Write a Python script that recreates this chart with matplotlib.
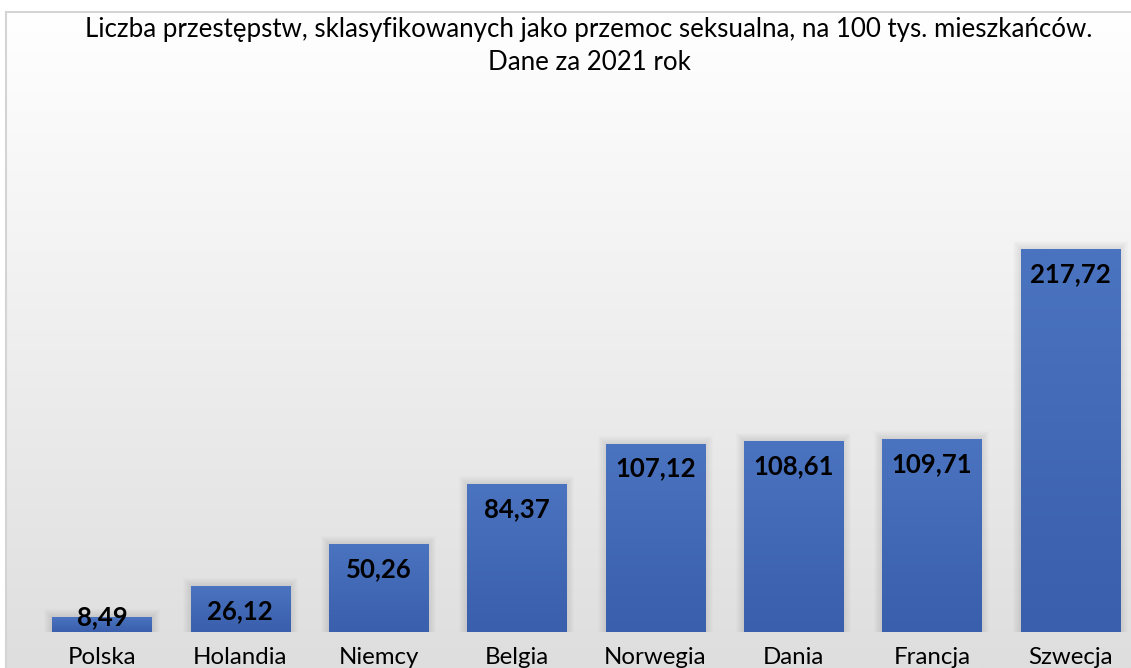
import numpy as np
import matplotlib
matplotlib.use("Agg")
import matplotlib.pyplot as plt
from matplotlib.patches import Rectangle

plt.rcParams["font.family"] = ["Lato", "DejaVu Sans"]

# data
countries = ["Polska", "Holandia", "Niemcy", "Belgia", "Norwegia", "Dania", "Francja", "Szwecja"]
values = [8.49, 26.12, 50.26, 84.37, 107.12, 108.61, 109.71, 217.72]
labels = ["8,49", "26,12", "50,26", "84,37", "107,12", "108,61", "109,71", "217,72"]
title_1 = "Liczba przestępstw, sklasyfikowanych jako przemoc seksualna, na 100 tys. mieszkańców."
title_2 = "Dane za 2021 rok"

W, H = 1131, 668
fig = plt.figure(figsize=(W / 100, H / 100), dpi=100)
fig.patch.set_facecolor("white")

# chart-area background: light frame + vertical gradient (white top, grey bottom)
bg = fig.add_axes([6 / W, 0, 1 - 6 / W, 1 - 12 / H])
grad = np.linspace(0.0, 1.0, 256).reshape(-1, 1)
bg.imshow(grad, aspect="auto", cmap=matplotlib.colors.LinearSegmentedColormap.from_list(
    "bg", ["#dedede", "#ffffff"]), extent=[0, 1, 0, 1], origin="lower")
bg.set_xlim(0, 1); bg.set_ylim(0, 1)
bg.set_xticks([]); bg.set_yticks([])
for s in ["left", "top"]:
    bg.spines[s].set_color("#d4d4d4"); bg.spines[s].set_linewidth(1.5)
for s in ["right", "bottom"]:
    bg.spines[s].set_visible(False)

# main axes: bar centres at 102 + 138.3*i px, baseline at y=632 px, 1.759 px per unit
step = 138.3
ax_l, ax_r = 8, W
ax_b, ax_t = H - 632, H - 100
ax = fig.add_axes([ax_l / W, ax_b / H, (ax_r - ax_l) / W, (ax_t - ax_b) / H])
ax.patch.set_alpha(0)
ax.set_xlim((ax_l - 102) / step, (ax_r - 102) / step)
ax.set_ylim(0, (ax_t - ax_b) / 1.759)

x = np.arange(len(countries))
bars = ax.bar(x, values, width=0.716, color="#4472c4", zorder=3)

# soft shadow + slight vertical gradient on each bar
bar_cmap = matplotlib.colors.LinearSegmentedColormap.from_list("bar", ["#3a5fac", "#4a73c0"])
px_x = 1 / step          # one pixel in x data units
px_y = 1 / 1.759         # one pixel in y data units
for b in bars:
    x0, w, h = b.get_x(), b.get_width(), b.get_height()
    for k in range(1, 9):
        ax.add_patch(Rectangle((x0 - k * px_x, 0), w + 2 * k * px_x, h + k * px_y,
                               color="black", alpha=0.012, lw=0, zorder=2))
    im = ax.imshow(np.linspace(0, 1, 128).reshape(-1, 1), cmap=bar_cmap, aspect="auto",
                   extent=[x0, x0 + w, 0, h], origin="lower", zorder=4)
    im.set_clip_path(b)

for xi, v, lab in zip(x, values, labels):
    ax.annotate(lab, xy=(xi, max(v, 22.7)), xytext=(0, -9.4), textcoords="offset points",
                ha="center", va="top", fontsize=18.5, fontweight="bold", color="black", zorder=5)

ax.set_xticks(x)
ax.set_xticklabels(countries, fontsize=17.3)
ax.tick_params(axis="x", length=0, pad=11)
ax.set_yticks([])
for s in ax.spines.values():
    s.set_visible(False)

fig.text(589 / W, 1 - 30 / H, title_1, ha="center", va="center", fontsize=18.6)
fig.text(589 / W, 1 - 62 / H, title_2, ha="center", va="center", fontsize=18.6)

fig.savefig("out.png", dpi=100)
